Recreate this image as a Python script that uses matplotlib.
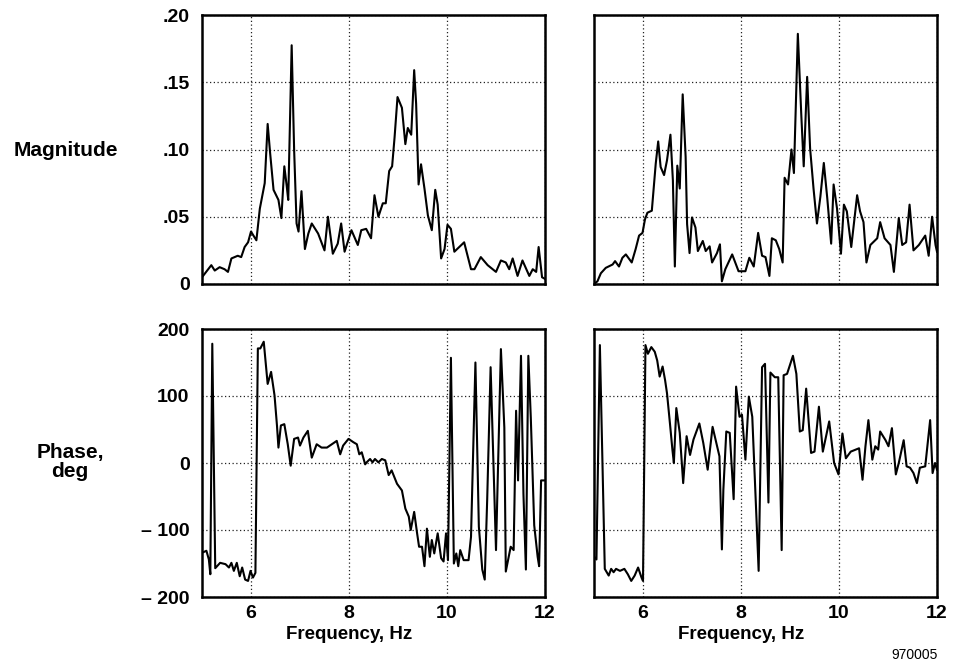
import matplotlib
matplotlib.use("Agg")
import matplotlib.pyplot as plt
from matplotlib.ticker import FixedLocator

plt.rcParams['font.family'] = ['Liberation Sans', 'DejaVu Sans']
plt.rcParams['font.weight'] = 'bold'

# ---- data ----
mag_left_f = [5.00, 5.19, 5.26, 5.36, 5.46, 5.53, 5.60, 5.73, 5.80, 5.87, 5.94, 6.00, 6.05, 6.11,
              6.18, 6.28, 6.34, 6.39, 6.46, 6.56, 6.62, 6.68, 6.73, 6.76, 6.83, 6.88, 6.93, 6.97,
              7.03, 7.10, 7.17, 7.24, 7.37, 7.50, 7.57, 7.67, 7.77, 7.84, 7.91, 8.05, 8.18, 8.25,
              8.35, 8.45, 8.52, 8.60, 8.69, 8.75, 8.82, 8.88, 8.93, 8.99, 9.08, 9.15, 9.20, 9.27,
              9.33, 9.37, 9.42, 9.47, 9.54, 9.61, 9.69, 9.76, 9.81, 9.88, 9.95, 10.01, 10.08, 10.15,
              10.35, 10.49, 10.56, 10.69, 10.83, 11.00, 11.10, 11.20, 11.27, 11.34, 11.44, 11.54,
              11.68, 11.75, 11.82, 11.87, 11.94, 11.99]
mag_left = [0.005, 0.014, 0.010, 0.0125, 0.011, 0.009, 0.019, 0.021, 0.020, 0.0275, 0.031, 0.039,
            0.036, 0.0325, 0.056, 0.075, 0.119, 0.0975, 0.070, 0.0625, 0.049, 0.0875, 0.0725,
            0.0625, 0.1775, 0.100, 0.045, 0.039, 0.069, 0.026, 0.0375, 0.045, 0.0375, 0.025,
            0.050, 0.0225, 0.030, 0.045, 0.024, 0.040, 0.029, 0.040, 0.041, 0.034, 0.066, 0.050,
            0.060, 0.060, 0.084, 0.0875, 0.109, 0.139, 0.131, 0.104, 0.116, 0.111, 0.159, 0.134,
            0.074, 0.089, 0.071, 0.051, 0.040, 0.070, 0.059, 0.019, 0.026, 0.044, 0.041, 0.024,
            0.031, 0.011, 0.011, 0.020, 0.014, 0.009, 0.0175, 0.016, 0.011, 0.019, 0.006, 0.0175,
            0.006, 0.011, 0.009, 0.0275, 0.005, 0.004]

mag_right_f = [5.00, 5.07, 5.14, 5.24, 5.38, 5.43, 5.51, 5.58, 5.65, 5.77, 5.85, 5.92, 5.99, 6.04,
               6.09, 6.18, 6.26, 6.31, 6.36, 6.43, 6.49, 6.56, 6.61, 6.65, 6.70, 6.75, 6.81, 6.87,
               6.90, 6.95, 7.00, 7.07, 7.12, 7.22, 7.28, 7.36, 7.41, 7.51, 7.57, 7.61, 7.68, 7.82,
               7.95, 8.09, 8.17, 8.26, 8.35, 8.43, 8.50, 8.58, 8.63, 8.71, 8.78, 8.85, 8.89, 8.96,
               9.03, 9.08, 9.16, 9.23, 9.28, 9.35, 9.41, 9.48, 9.55, 9.62, 9.69, 9.76, 9.84, 9.89,
               9.96, 10.04, 10.10, 10.16, 10.25, 10.37, 10.43, 10.50, 10.56, 10.64, 10.78, 10.84,
               10.93, 11.05, 11.12, 11.22, 11.29, 11.37, 11.44, 11.52, 11.63, 11.76, 11.83, 11.90,
               11.97, 12.00]
mag_right = [0.000, 0.002, 0.008, 0.012, 0.0145, 0.017, 0.013, 0.0195, 0.022, 0.016, 0.026, 0.036,
             0.038, 0.048, 0.053, 0.0545, 0.0895, 0.106, 0.087, 0.081, 0.092, 0.111, 0.077, 0.013,
             0.088, 0.071, 0.141, 0.0945, 0.0445, 0.023, 0.0495, 0.042, 0.0245, 0.032, 0.0245,
             0.028, 0.016, 0.023, 0.0295, 0.002, 0.011, 0.022, 0.0095, 0.0095, 0.0195, 0.013,
             0.038, 0.021, 0.020, 0.006, 0.034, 0.0325, 0.026, 0.016, 0.079, 0.074, 0.100, 0.0825,
             0.186, 0.126, 0.0875, 0.154, 0.101, 0.071, 0.045, 0.065, 0.090, 0.064, 0.030, 0.074,
             0.056, 0.0225, 0.059, 0.054, 0.0275, 0.066, 0.054, 0.046, 0.016, 0.029, 0.034, 0.046,
             0.034, 0.029, 0.009, 0.049, 0.029, 0.031, 0.059, 0.025, 0.029, 0.036, 0.021, 0.050,
             0.029, 0.024]

ph_left_f = [5.00, 5.09, 5.14, 5.17, 5.21, 5.27, 5.37, 5.48, 5.55, 5.60, 5.65, 5.71, 5.77, 5.82,
             5.88, 5.94, 5.99, 6.04, 6.09, 6.14, 6.19, 6.26, 6.34, 6.41, 6.48, 6.53, 6.56, 6.61,
             6.68, 6.75, 6.81, 6.88, 6.96, 7.00, 7.07, 7.16, 7.24, 7.34, 7.44, 7.55, 7.65, 7.75,
             7.82, 7.88, 7.99, 8.09, 8.16, 8.21, 8.26, 8.33, 8.36, 8.43, 8.48, 8.53, 8.60, 8.67,
             8.74, 8.81, 8.87, 8.98, 9.08, 9.15, 9.22, 9.26, 9.33, 9.39, 9.43, 9.49, 9.54, 9.59,
             9.65, 9.69, 9.74, 9.81, 9.88, 9.93, 9.98, 10.02, 10.08, 10.14, 10.19, 10.23, 10.27,
             10.34, 10.44, 10.49, 10.58, 10.65, 10.72, 10.77, 10.82, 10.89, 11.00, 11.10, 11.17,
             11.20, 11.30, 11.36, 11.41, 11.45, 11.51, 11.56, 11.61, 11.66, 11.71, 11.78, 11.85,
             11.88, 11.92, 12.00]
ph_left = [-134, -131, -144, -166, 178, -157, -149, -151, -156, -149, -161, -149, -169, -156,
           -174, -176, -161, -171, -164, 171, 171, 181, 118, 136, 101, 56, 23, 56,
           58, 28, -4, 36, 38, 26, 38, 48, 8, 28, 23, 23, 28, 33,
           13, 26, 36, 31, 28, 13, 16, -2, 1, 6, 1, 6, 1, 6,
           4, -18, -11, -31, -41, -68, -80, -100, -73, -105, -125, -125, -154, -98,
           -140, -115, -135, -105, -142, -147, -105, -145, 157, -150, -135, -154, -130,
           -145, -145, -110, 150, -95, -159, -174, -55, 143, -130, 170, 53,
           -162, -125, -130, 78, -26, 160, -46, -159, 160, 68, -93, -140,
           -154, -26, -26]

ph_right_f = [5.00, 5.05, 5.12, 5.22, 5.30, 5.35, 5.40, 5.45, 5.53, 5.62, 5.69, 5.76, 5.83, 5.90,
              5.97, 6.00, 6.05, 6.10, 6.17, 6.24, 6.29, 6.34, 6.40, 6.45, 6.49, 6.55, 6.60, 6.63,
              6.68, 6.75, 6.82, 6.89, 6.96, 7.03, 7.08, 7.15, 7.23, 7.32, 7.42, 7.49, 7.56, 7.61,
              7.64, 7.70, 7.77, 7.85, 7.90, 7.97, 8.02, 8.09, 8.16, 8.23, 8.36, 8.43, 8.49, 8.56,
              8.60, 8.69, 8.76, 8.83, 8.87, 8.94, 9.06, 9.13, 9.20, 9.26, 9.33, 9.43, 9.50, 9.59,
              9.67, 9.80, 9.90, 9.99, 10.07, 10.14, 10.24, 10.41, 10.48, 10.54, 10.60, 10.68,
              10.74, 10.80, 10.84, 10.95, 11.01, 11.08, 11.16, 11.22, 11.32, 11.38, 11.45, 11.52,
              11.59, 11.65, 11.76, 11.86, 11.91, 11.96, 12.00]
ph_right = [-140, -144, 176, -158, -168, -158, -163, -158, -161, -158, -166, -176, -168, -156,
            -171, -176, 176, 163, 173, 166, 153, 129, 144, 124, 104, 59, 20, 0,
            82, 45, -30, 40, 12, 35, 45, 59, 30, -10, 54, 32, 10, -129,
            -40, 47, 45, -54, 114, 69, 72, 5, 99, 69, -161, 143, 148, -59,
            135, 128, 128, -130, 131, 133, 160, 133, 47, 49, 111, 15, 17, 84,
            17, 62, 0, -17, 44, 7, 17, 22, -25, 25, 64, 5,
            25, 20, 47, 34, 25, 52, -17, 0, 34, -5, -7, -15,
            -30, -7, -5, 64, -15, 0, -10]

mag_ticks = [0, 0.05, 0.10, 0.15, 0.20]
mag_ticklabels = ['0', '.05', '.10', '.15', '.20']
ph_ticks = [-200, -100, 0, 100, 200]
ph_ticklabels = ['\u2013 200', '\u2013 100', '0', '100', '200']
freq_ticks = [6, 8, 10, 12]
freq_ticklabels = ['6', '8', '10', '12']

fig = plt.figure(figsize=(9.57, 6.64), dpi=100)
W, H = 957.0, 664.0


def make_ax(x0, x1, ytop, ybot):
    return fig.add_axes([x0 / W, 1 - ybot / H, (x1 - x0) / W, (ybot - ytop) / H])


ax_ml = make_ax(202, 545, 15, 284)
ax_mr = make_ax(594, 937, 15, 284)
ax_pl = make_ax(202, 545, 329, 597)
ax_pr = make_ax(594, 937, 329, 597)

for ax in (ax_ml, ax_mr, ax_pl, ax_pr):
    ax.set_xlim(5, 12)
    ax.xaxis.set_major_locator(FixedLocator(freq_ticks))
    ax.grid(True, color='#222222', linestyle=(0, (1, 2)), linewidth=0.9)
    ax.tick_params(length=0, labelsize=14, pad=9)
    for sp in ax.spines.values():
        sp.set_linewidth(1.8)
        sp.set_color('black')

for ax in (ax_ml, ax_mr):
    ax.set_ylim(0, 0.20)
    ax.set_yticks(mag_ticks)
    ax.set_xticklabels([])
for ax in (ax_pl, ax_pr):
    ax.set_ylim(-200, 200)
    ax.set_yticks(ph_ticks)
    ax.set_xticklabels(freq_ticklabels, fontweight='bold')
    ax.tick_params(axis='x', pad=6)
    ax.set_xlabel('Frequency, Hz', fontsize=13.5, fontweight='bold')
    ax.xaxis.set_label_coords(3 / 7, -0.11)

ax_ml.set_yticklabels(mag_ticklabels, fontweight='bold')
ax_pl.set_yticklabels(ph_ticklabels, fontweight='bold')
ax_mr.set_yticklabels([])
ax_pr.set_yticklabels([])

ax_ml.plot(mag_left_f, mag_left, color='black', linewidth=1.5)
ax_mr.plot(mag_right_f, mag_right, color='black', linewidth=1.5)
ax_pl.plot(ph_left_f, ph_left, color='black', linewidth=1.5)
ax_pr.plot(ph_right_f, ph_right, color='black', linewidth=1.5)

fig.text(66 / W, 1 - 150 / H, 'Magnitude', ha='center', va='center', fontsize=15, fontweight='bold')
fig.text(70 / W, 1 - 462 / H, 'Phase,\ndeg', ha='center', va='center', fontsize=15,
         fontweight='bold', linespacing=1.05)
fig.text(938 / W, 1 - 655 / H, '970005', ha='right', va='center', fontsize=10, fontweight='normal')

fig.savefig('out.png', dpi=100)
